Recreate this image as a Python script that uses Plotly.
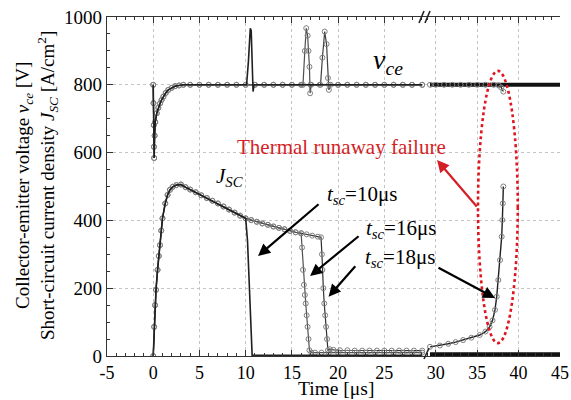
import plotly.graph_objects as go

FONT = "'Liberation Serif', 'Times New Roman', Times, serif"

# ---------------- data ----------------
# common collector-emitter voltage turn-on dip [us], [V]
t_vce_on = [0.0, 0.03, 0.06, 0.08, 0.1, 0.15, 0.22, 0.38, 0.55, 0.74, 0.9, 1.1, 1.35, 1.63, 2.0, 2.36, 2.8, 3.26,
            4.0, 5.0, 6.0, 7.0, 8.0, 9.0, 10.0]
vce_on = [800, 746, 681, 617, 584, 650, 690, 716, 732, 745, 755, 765, 776, 785, 791, 796, 798, 800,
          800, 800, 800, 800, 800, 800, 800]

# turn-off spikes of each case
t_vce10_off = [10.1, 10.3, 10.5, 10.6, 10.7, 10.8, 10.9, 12, 14, 16, 18, 20, 22, 24, 26, 28, 29.1]
vce10_off = [800, 870, 967, 960, 850, 780, 800, 800, 800, 800, 800, 800, 800, 800, 800, 800, 800]
t_vce16_off = [11, 12, 13, 14, 15, 16, 16.2, 16.4, 16.55, 16.7, 16.8, 16.9, 16.97, 17.1, 18, 19, 20, 21, 22, 23,
               24, 25, 26, 27, 28, 29.1]
vce16_off = [800, 800, 800, 800, 800, 800, 800, 900, 967, 945, 900, 853, 775, 800, 800, 800, 800, 800, 800, 800,
             800, 800, 800, 800, 800, 800]
t_vce18_off = [11, 12, 13, 14, 15, 16, 17, 18.1, 18.3, 18.55, 18.75, 18.9, 19.0, 19.2, 20, 21, 22, 23, 24, 25,
               26, 27, 28, 29.1]
vce18_off = [800, 800, 800, 800, 800, 800, 800, 800, 880, 957, 920, 820, 785, 800, 800, 800, 800, 800, 800, 800,
             800, 800, 800, 800]

# after the axis break
t_vce_late = [29.3, 45.0]
vce_late = [800, 800]
t_vce18_late = [29.3, 30, 31, 32, 33, 34, 35, 36, 37, 37.6, 37.9, 38.16]
vce18_late = [800, 800, 800, 800, 800, 800, 800, 800, 800, 798, 792, 780]

# short-circuit current density [A/cm2]
t_jsc_on = [0.0, 0.1, 0.2, 0.3, 0.47, 0.6, 0.73, 0.87, 1.0, 1.3, 1.55, 1.8, 2.1, 2.5, 3.0, 3.5, 4.0, 4.6, 5.2,
            5.8, 6.4, 7.0, 7.6, 8.2, 8.8, 9.4, 10.0]
jsc_on = [0, 86, 150, 195, 254, 295, 327, 370, 406, 450, 475, 490, 499, 504, 506, 498, 491, 483, 474,
          466, 458, 450, 441, 432, 423, 414, 406]

t_jsc10_off = [10.0, 10.2, 10.4, 10.6, 10.7, 12, 16, 20, 24, 29.1]
jsc10_off = [406, 340, 200, 50, 2, 2, 2, 2, 2, 2]
t_jsc16_off = [10.6, 11.2, 11.8, 12.4, 13.0, 13.6, 14.2, 14.8, 15.4, 16.0, 16.1, 16.2, 16.3, 16.4, 16.5,
               16.6, 16.7, 16.8, 16.9, 17.1, 17.5, 18.2, 19.0, 20, 21, 22, 23, 24, 25, 26, 27, 28, 29.1]
jsc16_off = [401, 396, 391, 387, 382, 378, 374, 369, 365, 362, 320, 254, 210, 180, 155, 120, 86, 50, 17, 10, 10,
             10, 10, 10, 10, 10, 10, 10, 10, 10, 10, 10, 10]
t_jsc18_off = [10.6, 11.2, 11.8, 12.4, 13.0, 13.6, 14.2, 14.8, 15.4, 16.0, 16.6, 17.2, 17.8, 18.15, 18.25, 18.3,
               18.4, 18.5, 18.6, 18.7, 18.8, 18.9, 19.1, 19.5, 20.2, 21, 21.8, 22.6, 23.4, 24.2, 25, 25.8, 26.6,
               27.4, 28.2, 29.1]
jsc18_off = [401, 396, 391, 387, 382, 378, 374, 369, 365, 362, 359, 355, 352, 350, 300, 254, 200, 155, 120, 86,
             50, 17, 20, 18, 17, 17, 16, 16, 16, 16, 16, 16, 16, 16, 16, 16]

t_jsc_late = [29.3, 45.0]
jsc_late = [5, 5]
t_jsc18_late = [29.3, 30.5, 31.5, 32.4, 33.3, 34.3, 35.3, 36.0, 36.5, 36.85, 37.15, 37.36, 37.55, 37.76, 37.96,
                38.04, 38.1, 38.16]
jsc18_late = [27, 31, 36, 41, 47, 54, 62, 72, 86, 105, 136, 175, 224, 283, 352, 401, 450, 500]

# ticks
x_left_ticks = [-5, 0, 5, 10, 15, 20, 25]
x_left_text = ["-5", "0", "5", "10", "15", "20", "25"]
x_right_ticks = [30, 35, 40, 45]
x_right_text = ["30", "35", "40", "45"]
y_ticks = [0, 200, 400, 600, 800, 1000]
y_text = ["0", "200", "400", "600", "800", "1000"]

# ---------------- figure ----------------
fig = go.Figure()
MK = dict(symbol="circle-open", size=5, color="#808080", line=dict(width=1, color="#808080"))


def add(x, y, xa, color, width, markers):
    fig.add_trace(go.Scatter(
        x=x, y=y, xaxis=xa, yaxis="y",
        mode="lines+markers" if markers else "lines",
        line=dict(color=color, width=width),
        marker=MK, showlegend=False, hoverinfo="skip"))


# before the break
add(t_vce_on + t_vce18_off, vce_on + vce18_off, "x", "#404040", 1.2, True)
add(t_vce_on + t_vce16_off, vce_on + vce16_off, "x", "#505050", 1.2, True)
add(t_vce_on + t_vce10_off, vce_on + vce10_off, "x", "#202020", 1.6, False)
add(t_jsc_on + t_jsc18_off, jsc_on + jsc18_off, "x", "#303030", 1.2, True)
add(t_jsc_on + t_jsc16_off, jsc_on + jsc16_off, "x", "#505050", 1.2, True)
add(t_jsc_on + t_jsc10_off, jsc_on + jsc10_off, "x", "#202020", 1.6, False)
# after the break
add(t_vce_late, vce_late, "x2", "#111111", 4, False)
add(t_vce18_late, vce18_late, "x2", "#202020", 1.2, True)
add(t_jsc_late, jsc_late, "x2", "#111111", 4, False)
add(t_jsc18_late, jsc18_late, "x2", "#202020", 1.4, True)

AX = dict(showline=True, linecolor="#333", linewidth=1.2, ticks="inside", ticklen=6, tickwidth=1.2,
          tickcolor="#333", showgrid=True, gridcolor="#c4c4c4", griddash="dot", gridwidth=1,
          zeroline=False, automargin=False)
XFONT = dict(family=FONT, size=18, color="black")
YFONT = dict(family=FONT, size=19, color="black")

fig.update_layout(
    width=571, height=400, template="none",
    paper_bgcolor="white", plot_bgcolor="white",
    margin=dict(l=107, r=11, t=17, b=44),
    font=dict(family=FONT, color="black"),
    xaxis=dict(domain=[0, 0.702], range=[-5, 29.4], tickmode="array", tickvals=x_left_ticks,
               ticktext=x_left_text, anchor="y", mirror="ticks", tickfont=XFONT,
               minor=dict(tickmode="linear", tick0=0, dtick=1, ticks="inside", ticklen=3, tickcolor="#333",
                          showgrid=False), **AX),
    xaxis2=dict(domain=[0.702, 1], range=[28.7, 45], tickmode="array", tickvals=x_right_ticks,
                ticktext=x_right_text, anchor="y", mirror="ticks", tickfont=XFONT,
                minor=dict(tickmode="linear", tick0=0, dtick=1, ticks="inside", ticklen=3, tickcolor="#333",
                           showgrid=False), **AX),
    yaxis=dict(domain=[0, 1], range=[0, 1000], tickmode="array", tickvals=y_ticks, ticktext=y_text,
               anchor="x", side="left", tickfont=YFONT,
               minor=dict(tickmode="linear", tick0=0, dtick=50, ticks="inside", ticklen=3, tickcolor="#333",
                          showgrid=False), **AX),
    yaxis2=dict(range=[0, 1000], tickmode="array", tickvals=y_ticks, anchor="x2", side="right",
                overlaying="y", showticklabels=False, showline=True, linecolor="#333", linewidth=1.2,
                ticks="inside", ticklen=6, tickcolor="#333", showgrid=False, zeroline=False,
                minor=dict(tickmode="linear", tick0=0, dtick=50, ticks="inside", ticklen=3, tickcolor="#333")),
)

# axis break marks
def px(xp, yp):
    return (xp - 107) / 453, (356 - yp) / 339

for (a, b) in [((419, 23), (424, 11)), ((425, 23), (430, 11)), ((424, 359), (429, 348))]:
    x0, y0 = px(*a)
    x1, y1 = px(*b)
    fig.add_shape(type="line", xref="paper", yref="paper", x0=x0, y0=y0, x1=x1, y1=y1,
                  line=dict(color="#222", width=1.6))

# red dotted ellipse
fig.add_shape(type="circle", xref="x2", yref="y", x0=35.1, x1=39.9, y0=38, y1=841,
              line=dict(color="#e0141e", width=2.6, dash="dot"))


def txt(xp, yp, text, size, color="black", yanchor="middle"):
    x, y = px(xp, yp)
    fig.add_annotation(xref="paper", yref="paper", x=x, y=y, text=text, showarrow=False,
                       xanchor="center", yanchor=yanchor, font=dict(family=FONT, size=size, color=color))


txt(388, 62, "<i>v</i><sub><i>ce</i></sub>", 28)
txt(229, 177, "<i>J</i><sub><i>SC</i></sub>", 21)
txt(341, 147, "Thermal runaway failure", 21, "#d41f26")
txt(362, 195, "<i>t</i><sub><i>sc</i></sub>=10μs", 21)
txt(401, 229, "<i>t</i><sub><i>sc</i></sub>=16μs", 21)
txt(400, 258, "<i>t</i><sub><i>sc</i></sub>=18μs", 21)

# axis titles
txt(336, 401, "Time [μs]", 19.5, yanchor="bottom")
tx, ty = px(36, 186)
fig.add_annotation(xref="paper", yref="paper", x=tx, y=ty, textangle=-90, showarrow=False,
                   xanchor="center", yanchor="middle", align="center",
                   text="Collector-emitter voltage <i>v<sub>ce</sub></i> [V]<br>"
                        "Short-circuit current density <i>J<sub>SC</sub></i> [A/cm<sup>2</sup>]",
                   font=dict(family=FONT, size=19, color="black"))


def arrow(xa, x, y, dx, dy, color="black"):
    fig.add_annotation(xref=xa, yref="y", x=x, y=y, ax=dx, ay=dy, axref="pixel", ayref="pixel",
                       text="", showarrow=True, arrowhead=2, arrowsize=1.1, arrowwidth=2.2,
                       arrowcolor=color, standoff=0)


arrow("x", 11.34, 295, 62, -53)
arrow("x", 16.97, 236, 50, -41)
arrow("x", 18.97, 175, 28, -32)
arrow("x2", 37.15, 171, -58, -31)
arrow("x2", 30.15, 578, 41, 48, "#d41f26")

fig.write_html("out.html")
